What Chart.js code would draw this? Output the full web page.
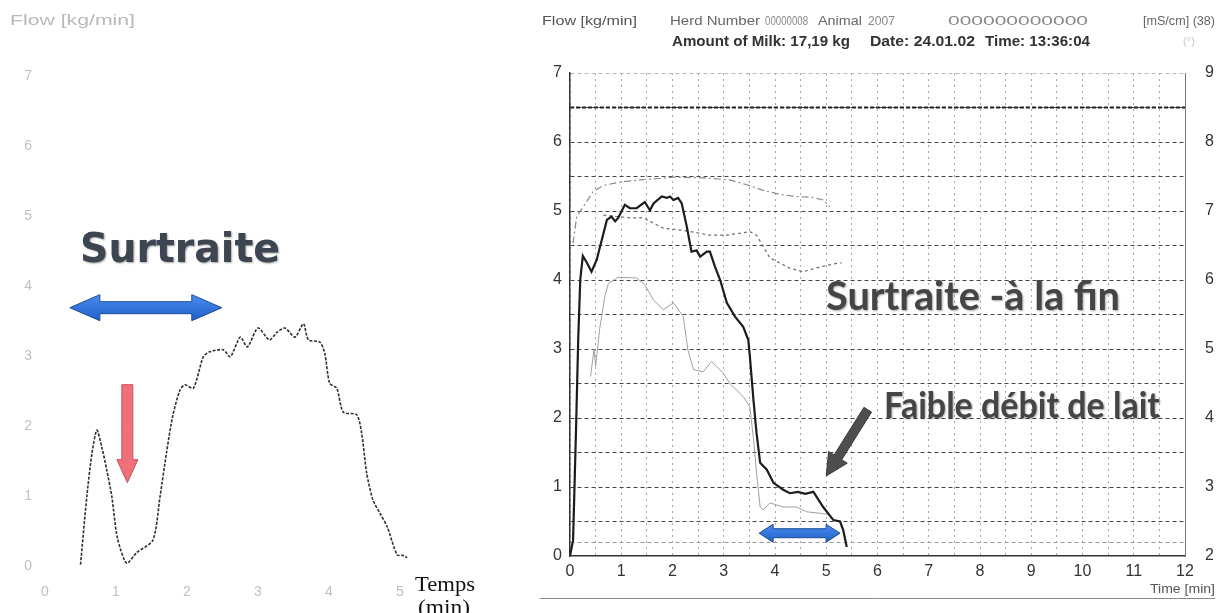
<!DOCTYPE html>
<html>
<head>
<meta charset="utf-8">
<script src="https://cdn.jsdelivr.net/npm/chart.js@4.4.1/dist/chart.umd.min.js"></script>
<style>
  body { margin: 0; width: 1229px; height: 613px; background: #fff; position: relative; overflow: hidden; }
  canvas { position: absolute; top: 0; }
  #left { left: 0; }
  #right { left: 530px; }
</style>
</head>
<body>
<canvas id="left" width="500" height="613"></canvas>
<canvas id="right" width="699" height="613"></canvas>
<script>
// left chart: milk flow with over-milking at the start
const leftTime = [0.5, 0.59, 0.66, 0.73, 0.8, 0.87, 0.94, 1.02, 1.15, 1.29, 1.52, 1.62, 1.71, 1.8, 1.9, 1.97, 2.09, 2.23, 2.32, 2.51, 2.61, 2.75, 2.85, 3.0, 3.16, 3.27, 3.38, 3.52, 3.64, 3.71, 3.87, 3.94, 4.01, 4.11, 4.2, 4.39, 4.46, 4.53, 4.62, 4.72, 4.82, 4.96, 5.05, 5.1];
const leftFlow = [0.02, 1.0, 1.6, 1.94, 1.7, 1.37, 1.0, 0.4, 0.04, 0.19, 0.37, 0.99, 1.61, 2.15, 2.51, 2.59, 2.54, 2.99, 3.06, 3.09, 2.99, 3.27, 3.13, 3.4, 3.23, 3.34, 3.4, 3.27, 3.46, 3.23, 3.2, 3.04, 2.61, 2.54, 2.2, 2.16, 1.9, 1.33, 0.94, 0.75, 0.56, 0.16, 0.15, 0.12];
const leftXTicks = [0, 1, 2, 3, 4, 5];

// right chart: milk flow [kg/min]
const flowTime = [0.0, 0.06, 0.12, 0.16, 0.2, 0.25, 0.33, 0.42, 0.52, 0.62, 0.72, 0.81, 0.88, 0.94, 1.07, 1.17, 1.3, 1.46, 1.56, 1.63, 1.79, 1.89, 1.95, 2.02, 2.11, 2.18, 2.28, 2.37, 2.47, 2.54, 2.67, 2.73, 2.83, 2.93, 3.06, 3.22, 3.38, 3.48, 3.51, 3.58, 3.64, 3.71, 3.84, 3.97, 4.16, 4.29, 4.45, 4.59, 4.75, 4.94, 5.14, 5.27, 5.33, 5.4];
const flowVal = [0.0, 0.23, 1.9, 3.13, 4.0, 4.35, 4.25, 4.12, 4.29, 4.58, 4.87, 4.92, 4.85, 4.9, 5.09, 5.04, 5.04, 5.13, 5.01, 5.11, 5.21, 5.19, 5.21, 5.16, 5.19, 5.11, 4.77, 4.41, 4.43, 4.34, 4.41, 4.41, 4.19, 4.0, 3.67, 3.47, 3.32, 3.13, 2.89, 2.26, 1.78, 1.35, 1.25, 1.06, 0.96, 0.91, 0.93, 0.9, 0.93, 0.71, 0.52, 0.5, 0.38, 0.13];
// second (thin gray) flow trace
const flow2Time = [0.4, 0.47, 0.5, 0.58, 0.68, 0.75, 0.94, 1.3, 1.46, 1.63, 1.82, 2.02, 2.21, 2.3, 2.41, 2.6, 2.76, 2.99, 3.12, 3.38, 3.51, 3.58, 3.64, 3.71, 3.77, 3.9, 4.16, 4.42, 4.62, 4.88, 5.05];
const flow2Val = [2.6, 3.0, 2.75, 3.3, 3.76, 3.95, 4.04, 4.03, 3.93, 3.71, 3.57, 3.67, 3.47, 2.99, 2.7, 2.67, 2.82, 2.65, 2.5, 2.31, 2.16, 1.7, 1.2, 0.71, 0.67, 0.77, 0.71, 0.71, 0.64, 0.62, 0.6];
// conductivity traces [mS/cm], right axis
const cond1Time = [0.06, 0.13, 0.25, 0.45, 0.65, 0.98, 1.37, 2.02, 2.6, 3.12, 3.45, 3.77, 4.1, 4.42, 4.7, 4.94, 5.07];
const cond1Val = [6.53, 6.92, 7.05, 7.28, 7.37, 7.42, 7.45, 7.49, 7.48, 7.45, 7.38, 7.3, 7.24, 7.21, 7.2, 7.16, 7.06];
const cond2Time = [0.65, 0.91, 1.2, 1.43, 1.82, 2.21, 2.73, 3.06, 3.51, 3.64, 3.9, 4.29, 4.55, 4.88, 5.2, 5.3];
const cond2Val = [6.94, 6.92, 6.9, 6.9, 6.75, 6.72, 6.65, 6.65, 6.7, 6.65, 6.32, 6.17, 6.12, 6.19, 6.24, 6.25];
const limitTime = [0, 12];
const limitVal = [8.5, 8.5];

const pts = (xs, ys) => xs.map((x, i) => ({ x: x, y: ys[i] }));

function label(ctx, str, x, y, font, color, width, shadow) {
    ctx.save();
    ctx.font = font;
    ctx.fillStyle = color;
    ctx.textBaseline = 'alphabetic';
    if (shadow) {
        ctx.shadowColor = 'rgba(0,0,0,0.35)';
        ctx.shadowBlur = 2;
        ctx.shadowOffsetX = 1;
        ctx.shadowOffsetY = 1;
    }
    const w = ctx.measureText(str).width;
    ctx.translate(x, y);
    if (width) ctx.scale(width / w, 1);
    ctx.fillText(str, 0, 0);
    ctx.restore();
}

// arrow outline from (x1,y1) to (x2,y2); both = double headed
function arrow(ctx, x1, y1, x2, y2, sw, hw, hl, both, fill, stroke) {
    const dx = x2 - x1, dy = y2 - y1, len = Math.hypot(dx, dy);
    const ux = dx / len, uy = dy / len, nx = -uy, ny = ux;
    const p = [];
    const P = (a, b) => p.push([x1 + ux * a + nx * b, y1 + uy * a + ny * b]);
    if (both) { P(0, 0); P(hl, hw); P(hl, sw); } else { P(0, sw); }
    P(len - hl, sw); P(len - hl, hw); P(len, 0); P(len - hl, -hw); P(len - hl, -sw);
    if (both) { P(hl, -sw); P(hl, -hw); } else { P(0, -sw); }
    ctx.save();
    ctx.beginPath();
    p.forEach((q, i) => (i ? ctx.lineTo(q[0], q[1]) : ctx.moveTo(q[0], q[1])));
    ctx.closePath();
    ctx.fillStyle = fill;
    ctx.fill();
    ctx.strokeStyle = stroke;
    ctx.lineWidth = 1;
    ctx.stroke();
    ctx.restore();
}

const leftNotes = {
    id: 'leftNotes',
    afterDatasetsDraw(chart) {
        const { ctx, scales: { x, y } } = chart;
        const blue = ctx.createLinearGradient(0, y.getPixelForValue(3.9), 0, y.getPixelForValue(3.5));
        blue.addColorStop(0, '#4d8ff0');
        blue.addColorStop(1, '#1f5ec8');
        arrow(ctx, x.getPixelForValue(0.35), y.getPixelForValue(3.69), x.getPixelForValue(2.49), y.getPixelForValue(3.69),
            6, 13, 30, true, blue, '#1a4a9a');
        arrow(ctx, x.getPixelForValue(1.16), y.getPixelForValue(2.59), x.getPixelForValue(1.16), y.getPixelForValue(1.19),
            5.5, 10.5, 23, false, '#f0707a', '#c9505c');
    },
    afterDraw(chart) {
        const ctx = chart.ctx;
        label(ctx, 'Flow [kg/min]', 10, 25, '14px "Liberation Sans"', '#b8b8b8', 125);
        label(ctx, 'Surtraite', 80, 262, 'bold 40px "DejaVu Sans"', '#3d4550', 200, true);
        label(ctx, 'Temps', 415, 591, '22px "Liberation Serif"', '#111', 60);
        label(ctx, '(min)', 418, 614, '22px "Liberation Serif"', '#111', 52);
    }
};

new Chart(document.getElementById('left'), {
    type: 'line',
    data: {
        datasets: [{
            data: pts(leftTime, leftFlow),
            borderColor: '#2e2e2e',
            borderWidth: 1.6,
            borderDash: [3, 1.5],
            pointRadius: 0,
            tension: 0.25,
        }],
    },
    options: {
        responsive: false,
        animation: false,
        layout: { padding: { top: 76, right: 29 } },
        plugins: { legend: { display: false }, tooltip: { enabled: false } },
        scales: {
            x: {
                type: 'linear', min: 0, max: 6,
                afterFit: (s) => { s.height = 47; },
                afterBuildTicks: (s) => { s.ticks = leftXTicks.map((v) => ({ value: v })); },
                grid: { display: false },
                border: { display: false },
                ticks: { color: '#c0c0c0', font: { family: 'Liberation Sans', size: 14 }, padding: 10 },
            },
            y: {
                min: 0, max: 7,
                afterFit: (s) => { s.width = 45; },
                grid: { color: '#ececec', drawTicks: false },
                border: { display: false, dash: [1, 14] },
                ticks: { stepSize: 1, color: '#c0c0c0', font: { family: 'Liberation Sans', size: 14 }, padding: 13 },
            },
        },
    },
    plugins: [leftNotes],
});

const rightNotes = {
    id: 'rightNotes',
    afterDatasetsDraw(chart) {
        const { ctx, scales: { x, y } } = chart;
        arrow(ctx, x.getPixelForValue(5.81), y.getPixelForValue(2.12), x.getPixelForValue(5.0), y.getPixelForValue(1.16),
            4.5, 11, 22, false, '#4e4e4e', '#3a3a3a');
        const blue = ctx.createLinearGradient(0, y.getPixelForValue(0.48), 0, y.getPixelForValue(0.18));
        blue.addColorStop(0, '#4d8ff0');
        blue.addColorStop(1, '#1f5ec8');
        arrow(ctx, x.getPixelForValue(3.69), y.getPixelForValue(0.33), x.getPixelForValue(5.27), y.getPixelForValue(0.33),
            4.5, 9, 14, true, blue, '#1a4a9a');
        label(ctx, 'Surtraite -à la fin', 826 - 530, 310, 'bold 40px Lato', '#454545', 294, true);
        label(ctx, 'Faible débit de lait', 884 - 530, 418, 'bold 37px Lato', '#454545', 276, true);
    },
    afterDraw(chart) {
        const ctx = chart.ctx;
        const f = '13px "Liberation Sans"';
        label(ctx, 'Flow [kg/min]', 542 - 530, 25, f, '#555', 95);
        label(ctx, 'Herd Number', 670 - 530, 25, f, '#666', 90);
        label(ctx, '00000008', 765 - 530, 25, f, '#888', 43);
        label(ctx, 'Animal', 818 - 530, 25, f, '#666', 44);
        label(ctx, '2007', 868 - 530, 25, f, '#888', 27);
        label(ctx, '000000000000', 948 - 530, 25, f, '#888', 140);
        label(ctx, '[mS/cm] (38)', 1143 - 530, 25, f, '#666', 72);
        label(ctx, '(°)', 1183 - 530, 45, '10px "Liberation Sans"', '#c8c8c8', 12);
        const b = 'bold 15px "Liberation Sans"';
        label(ctx, 'Amount of Milk: 17,19 kg', 672 - 530, 46, b, '#333', 178);
        label(ctx, 'Date: 24.01.02', 870 - 530, 46, b, '#333', 105);
        label(ctx, 'Time: 13:36:04', 985 - 530, 46, b, '#333', 105);
        label(ctx, 'Time [min]', 1150 - 530, 593, '12px "Liberation Sans"', '#555', 65);
        ctx.save();
        ctx.strokeStyle = '#8a8a8a';
        ctx.lineWidth = 1;
        ctx.beginPath();
        ctx.moveTo(540 - 530, 598.5);
        ctx.lineTo(1215 - 530, 598.5);
        ctx.stroke();
        ctx.restore();
    }
};

const tickFont = { family: 'Liberation Sans', size: 16 };

new Chart(document.getElementById('right'), {
    type: 'line',
    data: {
        datasets: [
            { data: pts(flowTime, flowVal), yAxisID: 'y', borderColor: '#1c1c1c', borderWidth: 2.2 },
            { data: pts(flow2Time, flow2Val), yAxisID: 'y', borderColor: '#a0a0a0', borderWidth: 1 },
            { data: pts(cond1Time, cond1Val), yAxisID: 'y2', borderColor: '#8a8a8a', borderWidth: 1.2, borderDash: [7, 3, 2, 3] },
            { data: pts(cond2Time, cond2Val), yAxisID: 'y2', borderColor: '#6e6e6e', borderWidth: 1.2, borderDash: [3, 3] },
            { data: pts(limitTime, limitVal), yAxisID: 'y2', borderColor: '#222', borderWidth: 1.8, borderDash: [4, 2] },
        ],
    },
    options: {
        responsive: false,
        animation: false,
        layout: { padding: { top: 73 } },
        elements: { point: { radius: 0 }, line: { tension: 0 } },
        plugins: { legend: { display: false }, tooltip: { enabled: false } },
        scales: {
            x: {
                type: 'linear', min: 0, max: 12,
                afterFit: (s) => { s.height = 57; },
                grid: { color: '#a8a8a8', lineWidth: 1, drawTicks: false },
                border: { display: true, color: '#333', width: 1.5, dash: [2, 4] },
                ticks: {
                    stepSize: 0.5, autoSkip: false, maxRotation: 0,
                    callback: (v) => (Number.isInteger(v) ? v : ''),
                    color: '#333', font: tickFont, padding: 6,
                },
            },
            y: {
                min: 0, max: 7,
                afterFit: (s) => { s.width = 40; },
                afterBuildTicks: (s) => {
                    s.ticks.push({ value: 0.2 });
                    s.ticks.sort((a, b) => a.value - b.value);
                },
                grid: {
                    drawTicks: false,
                    color: (c) => {
                        const v = c.tick ? c.tick.value : 0;
                        if (v === 0) return 'rgba(0,0,0,0)';
                        if (v === 7) return '#b8b8b8';
                        if (v === 0.2) return '#9a9a9a';
                        return '#444';
                    },
                },
                border: { display: true, color: '#333', width: 1.5, dash: [4, 3] },
                ticks: {
                    stepSize: 0.5,
                    callback: (v) => (Number.isInteger(v) ? v : ''),
                    color: '#333', font: tickFont, padding: 8,
                },
            },
            y2: {
                position: 'right', min: 2, max: 9,
                afterFit: (s) => { s.width = 44; },
                grid: { display: false },
                border: { display: true, color: '#777', width: 1 },
                ticks: { stepSize: 1, color: '#333', font: tickFont, padding: 12 },
            },
        },
    },
    plugins: [rightNotes],
});
</script>
</body>
</html>
